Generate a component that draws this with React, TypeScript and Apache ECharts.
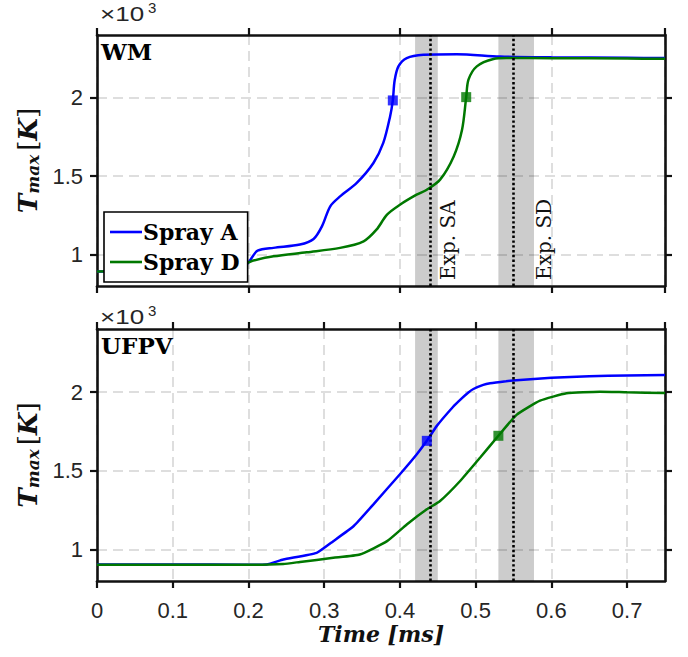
import React, { useEffect, useRef } from "react";
import * as echarts from "echarts";

// ---------- data ----------
// WM panel, Spray A
const wmTimeA = [0, 0.05, 0.1, 0.15, 0.19, 0.2, 0.205, 0.212, 0.233, 0.268, 0.286, 0.297, 0.308, 0.321, 0.343, 0.365, 0.378, 0.387, 0.3906, 0.393, 0.398, 0.409, 0.431, 0.475, 0.532, 0.6, 0.7, 0.75];
const wmTempA = [892, 894, 897, 900, 905, 950, 985, 1025, 1043, 1064, 1100, 1180, 1308, 1371, 1457, 1584, 1712, 1881, 1983, 2110, 2200, 2253, 2274, 2278, 2263, 2258, 2255, 2253];
// WM panel, Spray D
const wmTimeD = [0, 0.05, 0.1, 0.15, 0.2, 0.2065, 0.233, 0.277, 0.321, 0.352, 0.369, 0.383, 0.4, 0.422, 0.4355, 0.453, 0.471, 0.482, 0.4875, 0.4905, 0.5015, 0.5235, 0.541, 0.6, 0.7, 0.75];
const wmTempD = [892, 895, 900, 915, 950, 962, 989, 1015, 1043, 1085, 1159, 1255, 1318, 1382, 1414, 1478, 1626, 1796, 2004, 2115, 2200, 2247, 2253, 2252, 2250, 2248];
// UFPV panel, Spray A
const ufTimeA = [0, 0.1, 0.2, 0.224, 0.246, 0.29, 0.312, 0.339, 0.365, 0.4, 0.4223, 0.4355, 0.4487, 0.47, 0.4795, 0.49, 0.497, 0.51, 0.519, 0.54, 0.554, 0.6, 0.65, 0.7, 0.75];
const ufTempA = [905, 905, 903, 905, 936, 979, 1053, 1149, 1287, 1478, 1605, 1690, 1785, 1905, 1950, 1995, 2019, 2045, 2055, 2068, 2075, 2090, 2100, 2105, 2108];
// UFPV panel, Spray D
const ufTimeD = [0, 0.1, 0.2, 0.246, 0.268, 0.312, 0.347, 0.383, 0.409, 0.4355, 0.453, 0.4795, 0.506, 0.53, 0.554, 0.585, 0.62, 0.664, 0.7, 0.75];
const ufTempD = [903, 903, 903, 908, 921, 947, 968, 1053, 1159, 1255, 1308, 1435, 1584, 1722, 1855, 1945, 1992, 2002, 1998, 1994];
// ignition markers [time, T]
const wmMarkA = [0.3906, 1983];
const wmMarkD = [0.4875, 2004];
const ufMarkA = [0.4355, 1690];
const ufMarkD = [0.53, 1722];
// experimental ignition delays [low, mean, high]
const expSA = [0.42, 0.436, 0.45];
const expSD = [0.53, 0.553, 0.577];
const expNames = ["Exp. SA", "Exp. SD"];
const seriesNames = ["Spray A", "Spray D"];
const panelNames = ["WM", "UFPV"];
const yTickValues = [1000, 1500, 2000];
const yMin = 800;
const yMax = 2400;
const xMin = 0;
const xMax = 0.75;

const BLUE = "#0000ff";
const GREEN = "#007800";
const AXIS = "#111111";
const GRIDC = "#d4d4d4";
const SANS = "Liberation Sans, Arial, sans-serif";
const SERIF = "DejaVu Serif, serif";

const pairs = (t: number[], v: number[]) => t.map((x, i) => [x, v[i]]);

export default function App() {
  const ref = useRef<HTMLDivElement>(null);
  useEffect(() => {
    if (!ref.current) return;
    const chart = echarts.init(ref.current, null, { renderer: "svg" });

    const grids = [
      { left: 97, top: 35, width: 568, height: 251 },
      { left: 97, top: 329, width: 568, height: 252 },
    ];

    const xAxes: any[] = [];
    const yAxes: any[] = [];
    grids.forEach((_, g) => {
      const interval = g === 0 ? 0.2 : 0.1;
      const base = {
        type: "value",
        gridIndex: g,
        min: xMin,
        max: xMax,
        interval,
        axisLine: { show: true, onZero: false, lineStyle: { color: AXIS, width: 2.6 } },
        axisTick: { show: true, inside: false, length: 7, lineStyle: { color: AXIS, width: 2.2 } },
      };
      xAxes.push({
        ...base,
        position: "bottom",
        axisLabel: {
          show: g === 1,
          showMaxLabel: false,
          margin: 18,
          fontFamily: SANS,
          fontSize: 22,
          color: "#262626",
          formatter: (v: number) => String(Math.round(v * 10) / 10),
        },
        splitLine: { show: true, lineStyle: { color: GRIDC, width: 1.5, type: [10, 6] } },
        name: g === 1 ? "{a|Time [ms]}" : "",
        nameLocation: "middle",
        nameGap: 42,
        nameTextStyle: {
          rich: {
            a: { fontFamily: SERIF, fontStyle: "italic", fontWeight: "bold", fontSize: 22, color: "#111" },
          },
        },
      });
      xAxes.push({
        ...base,
        position: "top",
        axisLabel: { show: false },
        splitLine: { show: false },
      });
      const ybase = {
        type: "value",
        gridIndex: g,
        min: yMin,
        max: yMax,
        interval: 100,
        axisLine: { show: true, onZero: false, lineStyle: { color: AXIS, width: 2.6 } },
        axisTick: { show: true, inside: false, length: 7, customValues: yTickValues, lineStyle: { color: AXIS, width: 2.2 } },
      };
      yAxes.push({
        ...ybase,
        position: "left",
        axisLabel: {
          show: true,
          customValues: yTickValues,
          margin: 14,
          fontFamily: SANS,
          fontSize: 22,
          color: "#262626",
          formatter: (v: number) => String(v / 1000),
        },
        splitLine: { show: true, lineStyle: { color: GRIDC, width: 1.5, type: [10, 6] } },
        name: "{t|T}{s|max}{g| }{b|[}{k|K}{b|]}",
        nameLocation: "middle",
        nameRotate: 90,
        nameGap: 52,
        nameTextStyle: {
          rich: {
            t: { fontFamily: SERIF, fontStyle: "italic", fontWeight: "bold", fontSize: 26, color: "#111" },
            s: { fontFamily: SERIF, fontStyle: "italic", fontWeight: "bold", fontSize: 17, color: "#111", verticalAlign: "bottom", padding: [11, 0, 0, 0] },
            g: { fontSize: 14 },
            b: { fontFamily: SERIF, fontSize: 26, color: "#111" },
            k: { fontFamily: SERIF, fontStyle: "italic", fontWeight: "bold", fontSize: 26, color: "#111" },
          },
        },
      });
      yAxes.push({
        ...ybase,
        position: "right",
        axisLabel: { show: false },
        splitLine: { show: false },
      });
    });

    const series: any[] = [];
    const data = [
      { a: pairs(wmTimeA, wmTempA), d: pairs(wmTimeD, wmTempD), ma: wmMarkA, md: wmMarkD },
      { a: pairs(ufTimeA, ufTempA), d: pairs(ufTimeD, ufTempD), ma: ufMarkA, md: ufMarkD },
    ];
    data.forEach((p, g) => {
      const xi = g * 2;
      const yi = g * 2;
      series.push({
        type: "line",
        name: "bands" + g,
        xAxisIndex: xi,
        yAxisIndex: yi,
        data: [],
        z: 1,
        silent: true,
        markArea: {
          silent: true,
          itemStyle: { color: "rgba(0,0,0,0.2)" },
          data: [
            [{ xAxis: expSA[0] }, { xAxis: expSA[2] }],
            [{ xAxis: expSD[0] }, { xAxis: expSD[2] }],
          ],
        },
      });
      series.push({
        type: "line",
        name: seriesNames[0],
        xAxisIndex: xi,
        yAxisIndex: yi,
        data: p.a,
        symbol: "none",
        smooth: g === 0 ? 0.3 : 0.15,
        lineStyle: { color: BLUE, width: 2.5 },
        itemStyle: { color: BLUE },
        z: 3,
      });
      series.push({
        type: "line",
        name: seriesNames[1],
        xAxisIndex: xi,
        yAxisIndex: yi,
        data: p.d,
        symbol: "none",
        smooth: g === 0 ? 0.3 : 0.15,
        lineStyle: { color: GREEN, width: 2.5 },
        itemStyle: { color: GREEN },
        z: 3,
      });
      series.push({
        type: "line",
        name: "exp" + g,
        xAxisIndex: xi,
        yAxisIndex: yi,
        data: [],
        z: 4,
        silent: true,
        markLine: {
          silent: true,
          symbol: "none",
          label: { show: false },
          lineStyle: { color: "#000", width: 2.6, type: [2.4, 2.4] },
          data: [{ xAxis: expSA[1] }, { xAxis: expSD[1] }],
        },
      });
      series.push({
        type: "scatter",
        name: "markA" + g,
        xAxisIndex: xi,
        yAxisIndex: yi,
        data: [p.ma],
        symbol: "rect",
        symbolSize: 10,
        itemStyle: { color: BLUE },
        z: 5,
      });
      series.push({
        type: "scatter",
        name: "markD" + g,
        xAxisIndex: xi,
        yAxisIndex: yi,
        data: [p.md],
        symbol: "rect",
        symbolSize: 10,
        itemStyle: { color: GREEN },
        z: 5,
      });
    });

    const option: any = {
      animation: false,
      backgroundColor: "#fff",
      grid: grids,
      xAxis: xAxes,
      yAxis: yAxes,
      legend: {
        data: seriesNames.map((n) => ({ name: n, icon: "rect" })),
        orient: "vertical",
        left: 104,
        top: 212,
        backgroundColor: "#fff",
        borderColor: "#000",
        borderWidth: 1.6,
        borderRadius: 0,
        padding: [6, 8, 6, 6],
        itemGap: 2,
        itemWidth: 32,
        itemHeight: 2.6,
        z: 10,
        textStyle: { fontFamily: SERIF, fontWeight: "bold", fontSize: 22, lineHeight: 28, color: "#000", padding: [0, 0, 0, -4] },
      },
      series,
    };
    chart.setOption(option);

    // annotations
    const graphics: any[] = [];
    grids.forEach((gr, g) => {
      const topY = g === 0 ? 4 : 307;
      graphics.push({
        type: "text",
        x: gr.left + 3,
        y: topY,
        scaleX: 1.3,
        style: { text: "×10", font: `20px ${SANS}`, fill: "#262626", align: "left", verticalAlign: "top" },
        z: 10,
      });
      graphics.push({
        type: "text",
        x: gr.left + 51,
        y: topY - 4,
        style: { text: "3", font: `15px ${SANS}`, fill: "#262626", align: "left", verticalAlign: "top" },
        z: 10,
      });
      graphics.push({
        type: "text",
        x: gr.left + 4,
        y: gr.top + 5,
        style: { text: panelNames[g], font: `bold 23px ${SERIF}`, fill: "#000", align: "left", verticalAlign: "top" },
        z: 10,
      });
    });
    [expSA, expSD].forEach((e, i) => {
      const p = chart.convertToPixel({ xAxisIndex: 0, yAxisIndex: 0 } as any, [e[2], yMin]) as number[];
      graphics.push({
        type: "text",
        x: p[0] + 10,
        y: p[1] - 6,
        rotation: Math.PI / 2,
        style: {
          text: expNames[i],
          font: `20px ${SERIF}`,
          fill: "#111",
          align: "left",
          verticalAlign: "middle",
        },
        z: 10,
      });
    });
    chart.setOption({ graphic: graphics });

    return () => chart.dispose();
  }, []);

  return (
    <div
      ref={ref}
      style={{ position: "fixed", left: 0, top: 0, width: 688, height: 657, background: "#fff" }}
    />
  );
}
